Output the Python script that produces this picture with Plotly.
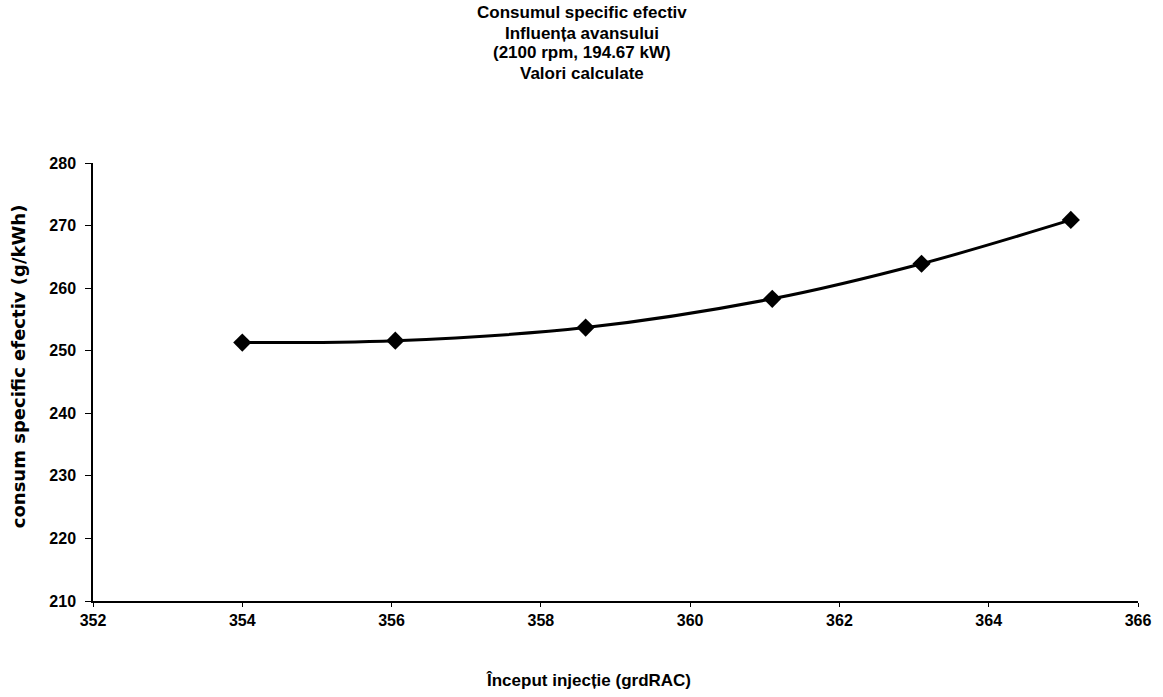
import plotly.graph_objects as go

# Injection start angle (deg crank) and computed specific fuel consumption
inceput_injectie = [354.0, 356.05, 358.6, 361.1, 363.1, 365.1]
consum_specific = [251.3, 251.6, 253.7, 258.3, 263.9, 270.9]

x_ticks = [352, 354, 356, 358, 360, 362, 364, 366]
y_ticks = [210, 220, 230, 240, 250, 260, 270, 280]

title_lines = [
    "Consumul specific efectiv",
    "Influența avansului",
    "(2100 rpm, 194.67 kW)",
    "Valori calculate",
]
x_title = "Început injecție (grdRAC)"
y_title = "consum specific efectiv (g/kWh)"

FONT = "Liberation Sans"

# Plot-area geometry in pixels (used to place the free-standing titles)
PLOT_LEFT, PLOT_RIGHT, PLOT_TOP, PLOT_BOTTOM = 93, 1141, 163, 601
W, H = 1163, 697


def px_to_paper(px, py):
    return ((px - PLOT_LEFT) / (PLOT_RIGHT - PLOT_LEFT),
            (PLOT_BOTTOM - py) / (PLOT_BOTTOM - PLOT_TOP))


fig = go.Figure()
fig.add_trace(go.Scatter(
    x=inceput_injectie,
    y=consum_specific,
    mode="lines+markers",
    line=dict(color="black", width=3, shape="spline", smoothing=1.0),
    marker=dict(symbol="diamond", size=14, color="black"),
    showlegend=False,
))

fig.update_layout(
    width=W,
    height=H,
    paper_bgcolor="white",
    plot_bgcolor="white",
    margin=dict(l=PLOT_LEFT, r=W - PLOT_RIGHT, t=PLOT_TOP, b=H - PLOT_BOTTOM),
    font=dict(family=FONT, color="black"),
)

fig.update_xaxes(
    range=[352, 366],
    tickvals=x_ticks,
    ticktext=[f"<b>{v}</b>" for v in x_ticks],
    tickfont=dict(family=FONT, size=16, color="black"),
    showgrid=False,
    zeroline=False,
    showline=True,
    linecolor="black",
    linewidth=1.5,
    ticks="outside",
    ticklen=4,
    tickcolor="black",
)

fig.update_yaxes(
    range=[210, 280],
    tickvals=y_ticks,
    ticktext=[f"<b>{v}</b>" for v in y_ticks],
    tickfont=dict(family=FONT, size=16, color="black"),
    showgrid=False,
    zeroline=False,
    showline=True,
    linecolor="black",
    linewidth=1.5,
    ticks="outside",
    ticklen=6,
    tickcolor="black",
    ticklabelstandoff=6,
)

# Four-line chart title, one annotation per line
for i, line in enumerate(title_lines):
    tx, ty = px_to_paper(583, 13 + i * 20)
    fig.add_annotation(
        text=f"<b>{line}</b>",
        xref="paper", yref="paper",
        x=tx, y=ty,
        xanchor="center", yanchor="middle",
        showarrow=False,
        font=dict(family=FONT, size=17, color="black"),
    )

# Axis titles
ax, ay = px_to_paper(590, 680)
fig.add_annotation(
    text=f"<b>{x_title}</b>",
    xref="paper", yref="paper",
    x=ax, y=ay,
    xanchor="center", yanchor="middle",
    showarrow=False,
    font=dict(family=FONT, size=17, color="black"),
)
bx, by = px_to_paper(18, 366)
fig.add_annotation(
    text=f"<b>{y_title}</b>",
    xref="paper", yref="paper",
    x=bx, y=by,
    xanchor="center", yanchor="middle",
    textangle=-90,
    showarrow=False,
    font=dict(family="DejaVu Sans", size=18, color="black"),
)

fig.write_html("out.html")
